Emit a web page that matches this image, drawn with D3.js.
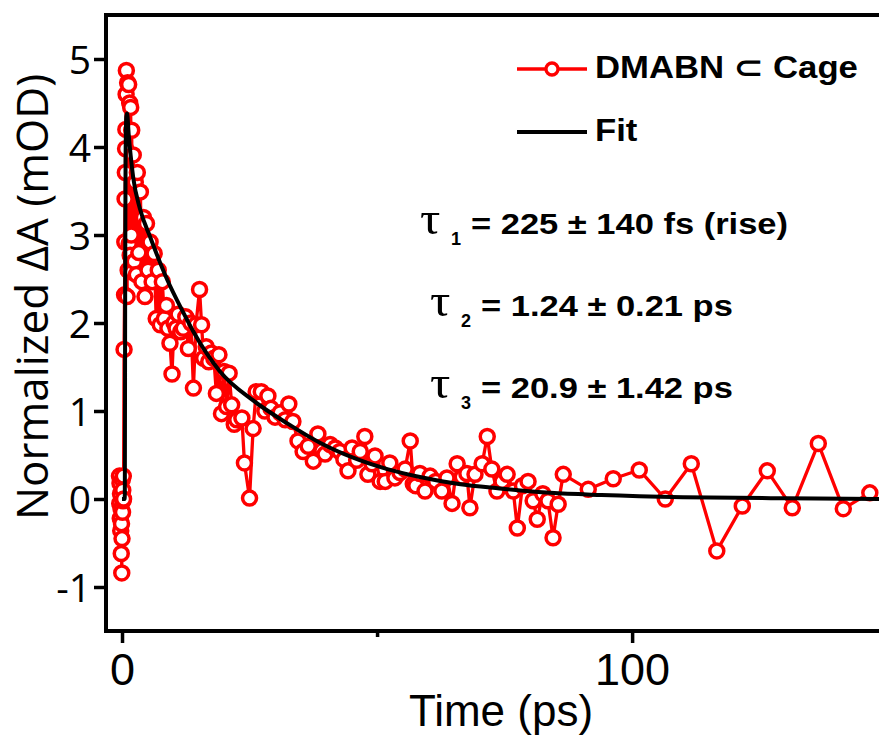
<!DOCTYPE html>
<html>
<head>
<meta charset="utf-8">
<script src="https://cdn.jsdelivr.net/npm/d3@7/dist/d3.min.js"></script>
<style>
body { margin: 0; background: #fff; }
svg { display: block; }
</style>
</head>
<body>
<svg></svg>
<script>
// measured kinetic trace: [time (ps), normalized dA (mOD)]
const measured = [
  [-0.5, 0.26], [-0.45, -0.05], [-0.4, 0.18], [-0.35, -0.22], [-0.3, 0.06], [-0.25, -0.36],
  [-0.2, -0.11], [-0.15, -0.62], [-0.1, -0.28], [-0.05, -0.84], [0.0, -0.45], [0.05, 0.22],
  [0.1, -0.15], [0.15, 0.1], [0.2, -0.02], [0.25, 0.26], [0.3, 0.0],
  [0.4, 1.70], [0.5, 2.32], [0.55, 2.92], [0.6, 3.41], [0.65, 3.71], [0.7, 3.98], [0.75, 4.2],
  [0.8, 4.6], [0.85, 4.87],
  [1.0, 2.3], [1.1, 4.73], [1.2, 2.6], [1.3, 4.71], [1.4, 2.9], [1.5, 4.5], [1.6, 2.77],
  [1.7, 4.45], [1.8, 3.0], [1.9, 4.19], [2.0, 2.58], [2.2, 3.91], [2.4, 2.7], [2.6, 3.6],
  [2.8, 2.55], [3.0, 3.71], [3.3, 2.8], [3.6, 3.49], [3.9, 2.47], [4.2, 3.2], [4.5, 2.3],
  [4.8, 3.13], [5.1, 2.6], [5.5, 2.92], [5.9, 2.47], [6.3, 2.79], [6.7, 2.05], [7.1, 2.6],
  [7.5, 1.98], [7.9, 2.47], [8.3, 2.05], [8.7, 2.2], [9.0, 1.94], [9.4, 1.77], [9.8, 1.42],
  [10.2, 2.0], [10.6, 1.94], [11.0, 2.1], [11.5, 1.9], [12.0, 1.94], [12.5, 2.07], [13.0, 1.71],
  [13.5, 2.0], [14.0, 1.26], [14.5, 1.98], [15.2, 2.38], [15.6, 1.98], [16.0, 1.6], [16.5, 1.73],
  [17.0, 1.56], [17.5, 1.66], [18.0, 1.6], [18.5, 1.2], [19.0, 1.64], [19.5, 0.97], [20.0, 1.45],
  [20.5, 1.05], [21.0, 1.43], [21.5, 1.07], [22.0, 0.85], [22.5, 0.9], [23.5, 0.92], [24.0, 0.41],
  [25.0, 0.01], [25.7, 0.8], [26.3, 1.22], [27.3, 1.22], [28.0, 1.0], [28.6, 1.17], [29.2, 1.03],
  [30.0, 0.93], [31.0, 0.98], [32.0, 0.9], [32.7, 1.08], [33.5, 0.88], [34.5, 0.66], [35.5, 0.54],
  [36.5, 0.6], [37.5, 0.43], [38.4, 0.74], [39.2, 0.55], [39.8, 0.51], [40.8, 0.62], [41.8, 0.58],
  [42.7, 0.54], [43.5, 0.45], [44.3, 0.32], [45.1, 0.58], [46.0, 0.44], [46.7, 0.54], [47.6, 0.71],
  [48.2, 0.28], [49.0, 0.4], [49.6, 0.49], [50.6, 0.2], [51.6, 0.2], [52.5, 0.41], [53.5, 0.24],
  [54.5, 0.3], [55.5, 0.34], [56.5, 0.66], [57.1, 0.17], [57.6, 0.15], [58.4, 0.29], [59.4, 0.09],
  [60.4, 0.26], [61.5, 0.2], [62.7, 0.09], [63.7, 0.24], [64.7, -0.05], [65.7, 0.4], [66.7, 0.25],
  [67.6, 0.29], [68.2, -0.1], [69.2, 0.28], [70.6, 0.4], [71.6, 0.71], [72.5, 0.34], [73.5, 0.09],
  [74.5, 0.2], [75.5, 0.28], [76.7, 0.09], [77.5, -0.33], [78.5, 0.15], [79.6, 0.2], [80.6, -0.02],
  [81.4, -0.23], [82.5, 0.06], [83.5, -0.02], [84.5, -0.44], [85.5, -0.06], [86.5, 0.28],
  [91.4, 0.11], [96.3, 0.23], [101.4, 0.33], [106.5, 0.0], [111.6, 0.40], [116.6, -0.59],
  [121.6, -0.08], [126.5, 0.32], [131.4, -0.1], [136.5, 0.63], [141.4, -0.11], [146.6, 0.07]
];

// fit curve
const fitCurve = [
  [0, 0], [0.5, 0], [0.55, 0.05], [0.62, 2.5], [0.7, 3.9], [0.85, 4.35], [1.0, 4.38], [1.3, 4.15],
  [1.7, 3.9], [2.2, 3.65], [3.5, 3.3], [5.5, 2.98], [8.8, 2.5], [12, 2.12], [14, 1.9], [19.2, 1.45],
  [25.7, 1.12], [32.4, 0.86], [38.8, 0.64], [45.3, 0.47], [52, 0.34], [58.4, 0.25], [66, 0.17],
  [74, 0.12], [84, 0.07], [94, 0.045], [110, 0.02], [130, 0.008], [150, 0]
];

const xMajorTicks = [0, 100];
const xMinorTicks = [50];
const yTicks = [-1, 0, 1, 2, 3, 4, 5];
const seriesNames = ["DMABN \u2282 Cage", "Fit"];
const lifetimeSubs = ["1", "2", "3"];
const lifetimeTexts = ["= 225 \u00b1 140 fs (rise)", "= 1.24 \u00b1 0.21 ps", "= 20.9 \u00b1 1.42 ps"];

let width = 879;
let height = 738;
let plotLeft = 106, plotRight = 879, plotTop = 15, plotBottom = 631;
let svg = d3.select('svg');
let xScale, yScale;

function setCanvas(){
  svg.attr("width", width).attr("height", height);
  svg.append("clipPath").attr("id", "plotclip")
     .append("rect").attr("x", plotLeft).attr("y", plotTop)
     .attr("width", plotRight - plotLeft).attr("height", plotBottom - plotTop);
}

function createScales(){
  xScale = d3.scaleLinear().domain([-3.14, 148.4]).range([plotLeft, plotRight]);
  yScale = d3.scaleLinear().domain([-1.5, 5.5]).range([plotBottom, plotTop]);
}

function drawAxis(){
  // plain hyphen for the minus sign, no decimals
  let yAxis = d3.axisLeft(yScale).tickValues(yTicks).tickSize(12).tickSizeOuter(0).tickPadding(3)
                .tickFormat(d => (d < 0 ? "-" : "") + Math.abs(d));
  let gy = svg.append("g").attr("transform", "translate(" + plotLeft + ",0)").call(yAxis);
  gy.select(".domain").remove();
  gy.selectAll("line").attr("stroke", "#000").attr("stroke-width", 3.5);
  gy.selectAll("text")
    .attr("font-family", "'Open Sans', sans-serif").attr("font-size", 39).attr("fill", "#000")
    .attr("dy", "0.36em");

  let xAxis = d3.axisBottom(xScale).tickValues(xMajorTicks).tickSize(12).tickSizeOuter(0).tickPadding(10);
  let gx = svg.append("g").attr("transform", "translate(0," + plotBottom + ")").call(xAxis);
  gx.select(".domain").remove();
  gx.selectAll("line").attr("stroke", "#000").attr("stroke-width", 3.5);
  gx.selectAll("text")
    .attr("font-family", "'Liberation Sans', Arial, sans-serif").attr("font-size", 45).attr("fill", "#000");

  let xMinor = d3.axisBottom(xScale).tickValues(xMinorTicks).tickSize(6).tickSizeOuter(0).tickFormat("");
  let gm = svg.append("g").attr("transform", "translate(0," + plotBottom + ")").call(xMinor);
  gm.select(".domain").remove();
  gm.selectAll("line").attr("stroke", "#000").attr("stroke-width", 3.5);

  // frame: left, bottom, top (right side is cut off)
  svg.append("path")
     .attr("d", "M" + plotRight + "," + plotTop + "H" + plotLeft + "V" + plotBottom + "H" + plotRight)
     .attr("fill", "none").attr("stroke", "#000").attr("stroke-width", 4);

  svg.append("text")
     .attr("transform", "translate(48,297) rotate(-90)")
     .attr("text-anchor", "middle")
     .attr("font-family", "'Open Sans', sans-serif").attr("font-size", 44)
     .text("Normalized \u0394A (mOD)");

  svg.append("text")
     .attr("x", 501).attr("y", 726).attr("text-anchor", "middle")
     .attr("font-family", "'Liberation Sans', Arial, sans-serif").attr("font-size", 44)
     .text("Time (ps)");
}

function drawData(){
  let plot = svg.append("g").attr("clip-path", "url(#plotclip)");
  let line = d3.line().x(d => xScale(d[0])).y(d => yScale(d[1]));

  plot.append("path").datum(measured)
      .attr("d", line)
      .attr("fill", "none").attr("stroke", "#ff0000").attr("stroke-width", 3.3)
      .attr("stroke-linejoin", "round");

  plot.selectAll("circle")
      .data(measured)
      .enter()
      .append("circle")
      .attr("cx", d => xScale(d[0]))
      .attr("cy", d => yScale(d[1]))
      .attr("r", 7)
      .attr("fill", "#fff").attr("stroke", "#ff0000").attr("stroke-width", 3.5);

  let fitLine = d3.line().x(d => xScale(d[0])).y(d => yScale(d[1])).curve(d3.curveMonotoneX);
  plot.append("path").datum(fitCurve)
      .attr("d", fitLine)
      .attr("fill", "none").attr("stroke", "#000").attr("stroke-width", 4);
}

function stretchedText(x, y, str, size, family, weight, sx){
  return svg.append("text")
     .attr("transform", "translate(" + x + "," + y + ") scale(" + sx + ",1)")
     .attr("font-family", family).attr("font-size", size).attr("font-weight", weight)
     .text(str);
}

function drawLegend(){
  let bold = "'Liberation Sans', Arial, sans-serif";
  svg.append("line").attr("x1", 517).attr("x2", 587).attr("y1", 69).attr("y2", 69)
     .attr("stroke", "#ff0000").attr("stroke-width", 3.3);
  svg.append("circle").attr("cx", 552).attr("cy", 69).attr("r", 6)
     .attr("fill", "#fff").attr("stroke", "#ff0000").attr("stroke-width", 3.3);
  stretchedText(595, 78, seriesNames[0], 31, bold, "bold", 1.12);

  svg.append("line").attr("x1", 517).attr("x2", 587).attr("y1", 132).attr("y2", 132)
     .attr("stroke", "#000").attr("stroke-width", 4);
  stretchedText(595, 141, seriesNames[1], 31, bold, "bold", 1.12);
}

function drawLifetimes(){
  let bold = "'Liberation Sans', Arial, sans-serif";
  let rows = [{x: 420, y: 234}, {x: 430, y: 316}, {x: 430, y: 398}];
  rows.forEach((r, i) => {
    stretchedText(r.x, r.y, "\u03c4", 46, "'Liberation Serif', serif", "normal", 1.1);
    stretchedText(r.x + 31, r.y + 11, lifetimeSubs[i], 18, bold, "bold", 1.0);
    stretchedText(r.x + 51, r.y, lifetimeTexts[i], 30, bold, "bold", 1.15);
  });
}

setCanvas();
createScales();
drawData();
drawAxis();
drawLegend();
drawLifetimes();
</script>
</body>
</html>
